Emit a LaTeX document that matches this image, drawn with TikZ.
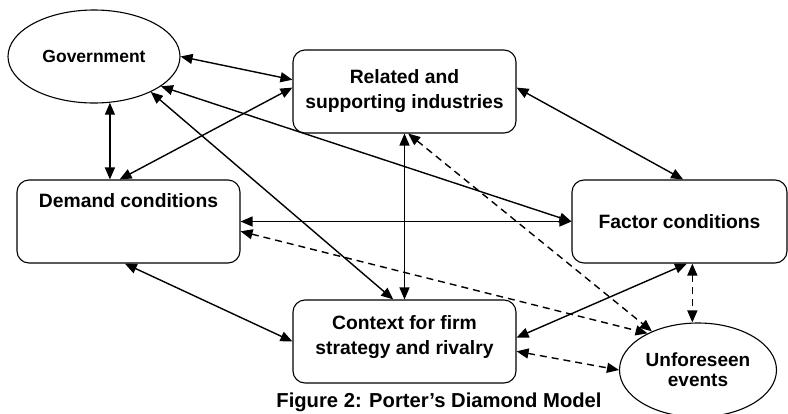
\documentclass[tikz,border=0pt]{standalone}
\usepackage{fontspec}
\setmainfont{Liberation Sans}
\usetikzlibrary{arrows.meta, shapes}
\tikzset{
every node/.style = {font = \bfseries\fontsize{19.3}{25}\selectfont},
determinant/.style = {rectangle, rounded corners = 12pt, draw, line width = 1.1pt,
   minimum width = 223pt, minimum height = 83pt, inner sep = 0pt, align = center},
outside/.style = {ellipse, draw, line width = 1.1pt, inner sep = 0pt, align = center},
link/.style = {{Triangle[length = 12pt, width = 10pt]}-{Triangle[length = 12pt, width = 10pt]},
   line width = 1.4pt},
chance/.style = {link, dash pattern = on 7pt off 5pt}
}

\begin{document}
\begin{tikzpicture}[x = 1pt, y = -1pt]
\useasboundingbox (0, 0) rectangle (788, 413);

%% Outside forces
\node [outside, minimum width = 172pt, minimum height = 93pt,
   font = \bfseries\fontsize{17.5}{21}\selectfont] (Gov) at (94, 56.5) {Government};
\node [outside, minimum width = 157pt, minimum height = 94pt,
   font = \bfseries\fontsize{19}{20}\selectfont] (Unf) at (698, 370) {Unforeseen\\events};

%% Diamond corners
\node [determinant] (Rel) at (404.5, 91.5) {Related and\\supporting industries};
\node [determinant, text depth = 42pt] (Dem) at (128.5, 221.5) {Demand conditions};
\node [determinant, minimum width = 215pt] (Fac) at (679.5, 221.5) {Factor conditions};
\node [determinant, text depth = 13pt] (Ctx) at (404.5, 341.5) {Context for firm\\strategy and rivalry};

%% Caption
\node [anchor = base, font = \bfseries\fontsize{20.2}{23}\selectfont] (caption)
   at (439, 407) {Figure 2: Porter's Diamond Model};

%% Government links
\draw [link] (Gov.0) -- (Rel.174);
\draw [link] (Gov.289) -- (Gov.289 |- Dem.north);
\draw [link] (Gov.336) -- (Fac.west);
\draw [link] (Gov.328) -- (Ctx.105);

%% Diamond links
\draw [link] (Rel.178) -- (Dem.102);
\draw [link] (Rel.2) -- (Fac.85);
\draw [link] (Rel.south) -- (Ctx.north);
\draw [link] (Dem.east) -- (Fac.west);
\draw [link] (Dem.265) -- (Ctx.west);
\draw [link] (Fac.280) -- (Ctx.2);

%% Chance links
\draw [chance] (Rel.275) -- (Unf.140);
\draw [chance] (Dem.355) -- (Unf.144);
\draw [chance] (Fac.287) -- (Fac.287 |- Unf.north);
\draw [chance] (Ctx.355) -- (Unf.west);

\end{tikzpicture}
\end{document}
